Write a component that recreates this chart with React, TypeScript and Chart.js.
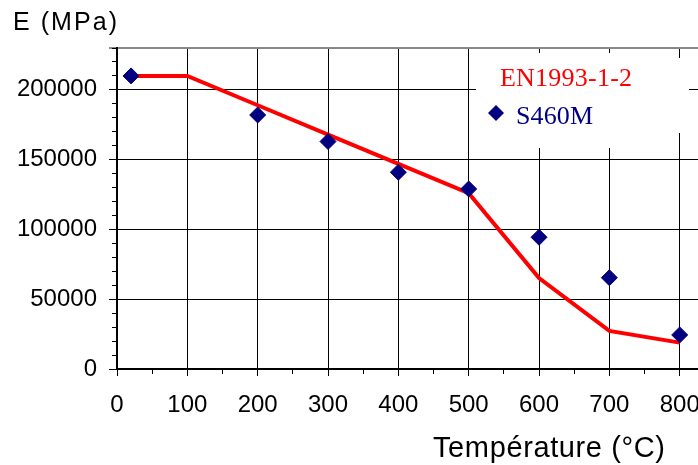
import React, { useEffect, useRef } from 'react';
import { Chart, registerables } from 'chart.js';

Chart.register(...registerables);

// ---- data ----
const s460mTemps = [20, 200, 300, 400, 500, 600, 700, 800];
const s460mValues = [210000, 182000, 163000, 141000, 129000, 94400, 65400, 24400];
const enTemps = [20, 100, 200, 300, 400, 500, 600, 700, 800];
const enValues = [210000, 210000, 189000, 168000, 147000, 126000, 65100, 27300, 18900];
const xMin = 0;
const xMax = 826;
const xMajorTicks = [0, 100, 200, 300, 400, 500, 600, 700, 800];
const xMinorTicks = [0, 50, 100, 150, 200, 250, 300, 350, 400, 450, 500, 550, 600, 650, 700, 750, 800];
const yMin = 0;
const yMax = 230000;
const yMajorTicks = [0, 50000, 100000, 150000, 200000, 230000];
const yMinorTicks = [0, 10000, 20000, 30000, 40000, 50000, 60000, 70000, 80000, 90000, 100000, 110000, 120000, 130000, 140000, 150000, 160000, 170000, 180000, 190000, 200000, 210000, 220000, 230000];
const yTitle = 'E (MPa)';
const xTitle = 'Température (°C)';
const legendLabels = ['EN1993-1-2', 'S460M'];

const SANS = "'Liberation Sans', Arial, sans-serif";
const SERIF = "'Liberation Serif', 'Times New Roman', serif";
const NAVY = '#000080';
const RED = '#ff0000';
const FRAME_GRAY = '#888888';

function drawFitted(ctx: CanvasRenderingContext2D, text: string, left: number, baseline: number, font: string, width: number, color: string) {
  ctx.save();
  ctx.font = font;
  ctx.fillStyle = color;
  ctx.textAlign = 'left';
  ctx.textBaseline = 'alphabetic';
  const w = ctx.measureText(text).width;
  const anyCtx = ctx as any;
  if ('letterSpacing' in anyCtx && text.length > 1) {
    const ls = (width - w) / (text.length - 1);
    anyCtx.letterSpacing = ls.toFixed(2) + 'px';
    ctx.fillText(text, left, baseline);
  } else {
    ctx.translate(left, baseline);
    ctx.scale(width / w, 1);
    ctx.fillText(text, 0, 0);
  }
  ctx.restore();
}

const decorPlugin = {
  id: 'decor',
  afterDatasetsDraw(chart: any) {
    const ctx: CanvasRenderingContext2D = chart.ctx;
    // legend box
    ctx.save();
    ctx.fillStyle = '#ffffff';
    ctx.fillRect(476, 53, 201, 95);
    ctx.fillRect(677, 58, 12, 75);
    ctx.restore();
    drawFitted(ctx, legendLabels[0], 500, 86, `26px ${SERIF}`, 132, RED);
    drawFitted(ctx, legendLabels[1], 516, 124, `26px ${SERIF}`, 77, NAVY);
    // legend marker
    ctx.save();
    ctx.fillStyle = NAVY;
    ctx.beginPath();
    const cx = 496, cy = 113, r = 8;
    ctx.moveTo(cx - r, cy);
    ctx.lineTo(cx, cy - r);
    ctx.lineTo(cx + r, cy);
    ctx.lineTo(cx, cy + r);
    ctx.closePath();
    ctx.fill();
    ctx.restore();
    // axis titles
    drawFitted(ctx, yTitle, 13, 30, `25px ${SANS}`, 104, '#000');
    drawFitted(ctx, xTitle, 433, 457, `29px ${SANS}`, 232, '#000');
  },
};

const setTicks = (values: number[]) => (s: any) => {
  s.ticks = values.map((v) => ({ value: v }));
};

export default function App() {
  const ref = useRef<HTMLCanvasElement | null>(null);

  useEffect(() => {
    if (!ref.current) return;
    Chart.defaults.font.family = SANS;
    const chart = new Chart(ref.current, {
      type: 'scatter',
      data: {
        datasets: [
          {
            label: legendLabels[1],
            data: s460mTemps.map((t, i) => ({ x: t, y: s460mValues[i] })),
            pointStyle: 'rectRot',
            pointRadius: 8,
            pointBackgroundColor: NAVY,
            pointBorderColor: NAVY,
            pointBorderWidth: 1,
            showLine: false,
            clip: false,
          },
          {
            label: legendLabels[0],
            data: enTemps.map((t, i) => ({ x: t, y: enValues[i] })),
            showLine: true,
            borderColor: RED,
            backgroundColor: RED,
            borderWidth: 4,
            pointRadius: 0,
            tension: 0,
            fill: false,
          },
        ],
      },
      options: {
        responsive: false,
        animation: false,
        devicePixelRatio: 1,
        layout: { autoPadding: false, padding: { top: 48, left: 0, right: 0, bottom: 0 } },
        plugins: {
          legend: { display: false },
          tooltip: { enabled: false },
          title: { display: false },
        },
        scales: {
          x: {
            type: 'linear',
            position: 'bottom',
            min: xMin,
            max: xMax,
            weight: 1,
            afterBuildTicks: setTicks(xMajorTicks),
            ticks: {
              padding: 15,
              color: '#000',
              font: { size: 24, family: SANS },
              maxRotation: 0,
              autoSkip: false,
              callback: (v: any) => String(v),
            },
            grid: { color: '#000', lineWidth: 1, tickLength: 7, tickColor: '#000', drawTicks: true },
            border: { display: true, color: '#000', width: 2 },
            afterFit: (s: any) => { s.height = 96; s.paddingLeft = 0; s.paddingRight = 0; },
          },
          xMinor: {
            type: 'linear',
            position: 'bottom',
            min: xMin,
            max: xMax,
            weight: 0,
            afterBuildTicks: setTicks(xMinorTicks),
            ticks: { display: false, autoSkip: false },
            grid: { drawOnChartArea: false, tickLength: 5, tickColor: '#000', lineWidth: 1 },
            border: { display: false },
            afterFit: (s: any) => { s.height = 0; s.paddingLeft = 0; s.paddingRight = 0; },
          },
          xTop: {
            type: 'linear',
            position: 'top',
            min: xMin,
            max: xMax,
            weight: 0,
            ticks: { display: false },
            grid: { display: false },
            border: { display: true, color: FRAME_GRAY, width: 2 },
            afterFit: (s: any) => { s.height = 0; s.paddingLeft = 0; s.paddingRight = 0; },
          },
          y: {
            type: 'linear',
            position: 'left',
            min: yMin,
            max: yMax,
            weight: 1,
            afterBuildTicks: setTicks(yMajorTicks),
            ticks: {
              padding: 12,
              color: '#000',
              autoSkip: false,
              font: { size: 24, family: SANS },
              callback: (v: any) => (v === yMax ? '' : String(v)),
            },
            grid: {
              color: (c: any) => (c.tick && c.tick.value === yMax ? FRAME_GRAY : '#000'),
              lineWidth: (c: any) => (c.tick && c.tick.value === yMax ? 2 : 1),
              tickColor: (c: any) => (c.tick && c.tick.value === yMax ? FRAME_GRAY : '#000'),
              tickLength: 8,
            },
            border: { display: true, color: '#000', width: 2 },
            afterFit: (s: any) => { s.width = 117; s.paddingTop = 0; s.paddingBottom = 0; },
          },
          yMinor: {
            type: 'linear',
            position: 'left',
            min: yMin,
            max: yMax,
            weight: 0,
            afterBuildTicks: setTicks(yMinorTicks),
            ticks: { display: false, autoSkip: false },
            grid: { drawOnChartArea: false, tickLength: 5, tickColor: '#000', lineWidth: 1 },
            border: { display: false },
            afterFit: (s: any) => { s.width = 0; s.paddingTop = 0; s.paddingBottom = 0; },
          },
        },
      } as any,
      plugins: [decorPlugin],
    });
    return () => chart.destroy();
  }, []);

  return (
    <div style={{ position: 'absolute', left: 0, top: 0, width: 698, height: 465, background: '#fff' }}>
      <canvas ref={ref} width={698} height={465} style={{ display: 'block' }} />
    </div>
  );
}
